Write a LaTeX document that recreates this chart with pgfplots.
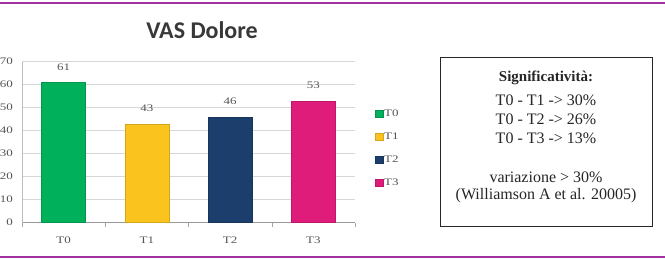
\documentclass[border=0pt]{standalone}
\usepackage{pgfplots}
\pgfplotsset{compat=1.18}
\usepackage{fontspec}
\setmainfont{Liberation Serif}
\newfontfamily\carlito{Carlito}
\newfontfamily\wideserif[FakeStretch=1.3]{Liberation Serif}
\definecolor{purp}{RGB}{160,50,160}
\definecolor{cT0}{RGB}{0,176,90}
\definecolor{cT1}{RGB}{250,195,30}
\definecolor{cT2}{RGB}{28,62,108}
\definecolor{cT3}{RGB}{224,28,122}
\definecolor{txtgray}{RGB}{85,85,85}
\definecolor{gridgray}{RGB}{215,215,215}
\begin{document}
\begin{tikzpicture}[x=1pt,y=1pt]
\useasboundingbox (0,0) rectangle (665,259);
\fill[white] (0,0) rectangle (665,259);
\draw[purp, line width=2pt] (0,255.7) -- (665,255.7);
\draw[purp, line width=2pt] (0,2) -- (665,2);
\node[font=\carlito\bfseries\fontsize{24}{26}\selectfont, text=black!78] at (202,229) {VAS Dolore};
\begin{axis}[
  at={(22pt,36.3pt)}, anchor=south west,
  scale only axis, width=333pt, height=161pt,
  xmin=-0.5, xmax=3.5, ymin=0, ymax=70,
  ytick={0,10,...,70},
  xtick={0,1,2,3}, xticklabels={T0,T1,T2,T3},
  minor xtick={-0.5,0.5,1.5,2.5,3.5},
  major tick length=0pt,
  minor tick length=4pt,
  tick align=outside,
  minor tick style={gray!70},
  axis x line*=bottom, axis y line*=left,
  x axis line style={gray!80, -},
  y axis line style={gray!50, -},
  ymajorgrids, grid style={gridgray, line width=0.6pt},
  /pgf/number format/assume math mode=true,
  yticklabel style={font=\wideserif\fontsize{10}{11}\selectfont, text=txtgray, anchor=east, inner sep=0pt, xshift=-9pt},
  xticklabel style={font=\wideserif\fontsize{10}{11}\selectfont, text=txtgray, inner sep=0pt, yshift=-14pt},
  ybar, bar width=44pt, bar shift=0pt,
  nodes near coords,
  every node near coord/.append style={font=\wideserif\fontsize{10}{11}\selectfont, text=txtgray, inner sep=0pt, anchor=base, yshift=12pt},
  legend style={at={(1.06,0.461)}, anchor=west, draw=none, fill=none,
    font=\wideserif\fontsize{10}{11}\selectfont, text=txtgray, row sep=13pt, inner sep=0pt,
    nodes={inner sep=1pt}},
  legend cell align=left,
  legend image code/.code={\fill[#1] (0pt,-3.5pt) rectangle (7.5pt,3.5pt);},
  clip=false,
]
\addplot[fill=cT0, draw=cT0!85!black] coordinates {(0,61)};
\addplot[fill=cT1, draw=cT1!85!black] coordinates {(1,43)};
\addplot[fill=cT2, draw=cT2!85!black] coordinates {(2,46)};
\addplot[fill=cT3, draw=cT3!85!black] coordinates {(3,53)};
\legend{T0,T1,T2,T3}
\end{axis}
\draw[black!85, line width=1pt] (440,201) rectangle (652,32);
\begin{scope}[every node/.style={font=\fontsize{16}{19}\selectfont, text=black!85, inner sep=0pt, anchor=center}]
\node[font=\bfseries\fontsize{15}{18}\selectfont] at (546,181) {Significatività:};
\node at (546,159) {T0 - T1 -> 30\%};
\node at (546,140) {T0 - T2 -> 26\%};
\node at (546,121) {T0 - T3 -> 13\%};
\node at (546,82) {variazione > 30\%};
\node at (546,63) {(Williamson A et al. 20005)};
\end{scope}
\end{tikzpicture}
\end{document}
